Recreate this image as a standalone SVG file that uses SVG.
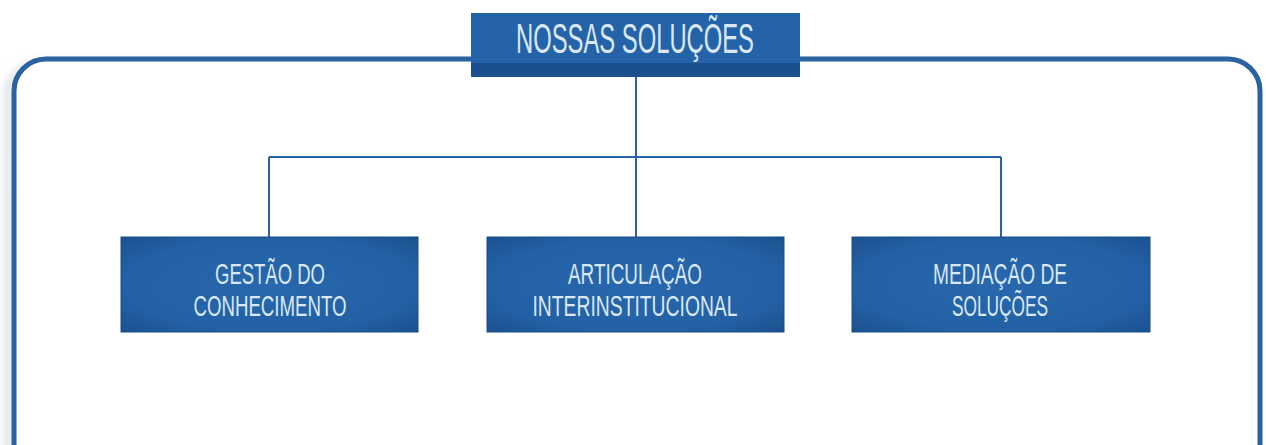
<svg xmlns="http://www.w3.org/2000/svg" width="1266" height="445" viewBox="0 0 1266 445">
<defs>
<style>
.lbl{font-family:"Liberation Sans",Arial,sans-serif;fill:#dae8f6;text-anchor:middle}
.conn{stroke:#2a63a5;stroke-width:2;fill:none}
.box{fill:url(#boxg);stroke:#1b4c86;stroke-width:1}
</style>
<radialGradient id="boxg" cx="0.5" cy="0.5" r="0.7">
<stop offset="0" stop-color="#2868ae"/>
<stop offset="0.7" stop-color="#2360a4"/>
<stop offset="1" stop-color="#1c5290"/>
</radialGradient>
<filter id="sh" x="-5%" y="-10%" width="110%" height="120%">
<feGaussianBlur stdDeviation="4"/>
</filter>
</defs>
<rect width="1266" height="445" fill="#ffffff"/>
<g id="frame">
<rect x="8" y="64" width="1246" height="420" rx="32" fill="none" stroke="#d4d8dc" stroke-width="6" filter="url(#sh)"/>
<rect x="14" y="59" width="1246" height="420" rx="32" fill="#ffffff" stroke="#2a62a2" stroke-width="5"/>
</g>
<g id="connectors">
<path class="conn" d="M636 77 V157 M269 157 H1001 M269 157 V237 M636 157 V237 M1001 157 V237"/>
</g>
<g id="title">
<rect x="471" y="13" width="329" height="51" fill="#2563a8"/>
<rect x="471" y="63" width="329" height="14" fill="#1c4f8e"/>
<text class="lbl" x="635" y="53" font-size="43" textLength="238" lengthAdjust="spacingAndGlyphs">NOSSAS SOLUÇÕES</text>
</g>
<g id="node1">
<rect class="box" x="121" y="237" width="297" height="95"/>
<text class="lbl" x="270" y="284" font-size="30" textLength="110" lengthAdjust="spacingAndGlyphs">GESTÃO DO</text>
<text class="lbl" x="270" y="316" font-size="30" textLength="153" lengthAdjust="spacingAndGlyphs">CONHECIMENTO</text>
</g>
<g id="node2">
<rect class="box" x="487" y="237" width="297" height="95"/>
<text class="lbl" x="635" y="284" font-size="30" textLength="134" lengthAdjust="spacingAndGlyphs">ARTICULAÇÃO</text>
<text class="lbl" x="635" y="316" font-size="30" textLength="205" lengthAdjust="spacingAndGlyphs">INTERINSTITUCIONAL</text>
</g>
<g id="node3">
<rect class="box" x="852" y="237" width="298" height="95"/>
<text class="lbl" x="1000" y="284" font-size="30" textLength="134" lengthAdjust="spacingAndGlyphs">MEDIAÇÃO DE</text>
<text class="lbl" x="1000" y="316" font-size="30" textLength="96" lengthAdjust="spacingAndGlyphs">SOLUÇÕES</text>
</g>
</svg>
